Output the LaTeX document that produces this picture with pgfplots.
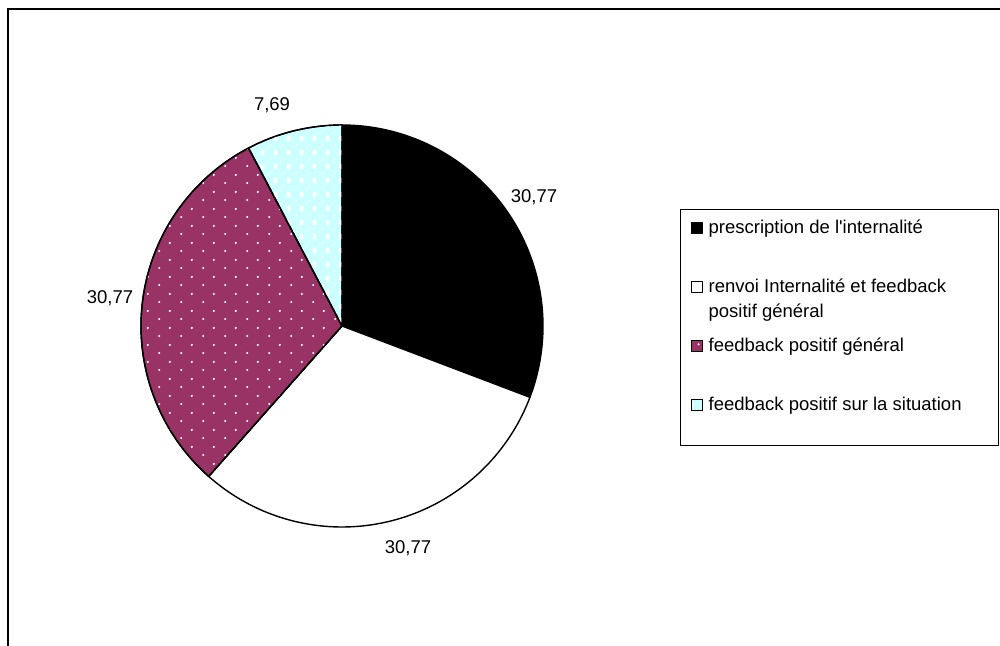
\documentclass[border=0pt]{standalone}
\usepackage{fontspec}
\setmainfont{Liberation Sans}[Ligatures=TeXOff]
\usepackage{pgfplots}
\usepackage{pgfplotstable}
\pgfplotsset{compat=1.18}
\usetikzlibrary{patterns.meta}
\definecolor{plum}{RGB}{153,51,102}
\definecolor{lcyan}{RGB}{204,255,255}

\tikzdeclarepattern{name=wdots, type=uncolored,
  bottom left={(0pt,0pt)}, top right={(11pt,8.5pt)}, tile size={(11pt,8.5pt)},
  code={\fill (2.75pt,2.1pt) circle (0.6pt); \fill (8.25pt,6.35pt) circle (0.6pt);}}
\tikzdeclarepattern{name=wchecks, type=uncolored,
  bottom left={(0pt,0pt)}, top right={(6.5pt,7pt)}, tile size={(6.5pt,7pt)},
  code={\fill (0.5pt,0.5pt) rectangle (2.3pt,3.3pt);
        \fill (3.75pt,4pt) rectangle (4.5pt,4.75pt); \fill (5.25pt,5.5pt) rectangle (6pt,6.25pt);}}

\pgfplotstableread{
idx value
0 30.77
1 30.77
2 30.77
3 7.69
}\piedata

\pgfplotstablegetelem{0}{value}\of\piedata \let\va\pgfplotsretval
\pgfplotstablegetelem{1}{value}\of\piedata \let\vb\pgfplotsretval
\pgfplotstablegetelem{2}{value}\of\piedata \let\vc\pgfplotsretval
\pgfplotstablegetelem{3}{value}\of\piedata \let\vd\pgfplotsretval
\pgfmathsetmacro{\aA}{90-3.6*\va}
\pgfmathsetmacro{\aB}{\aA-3.6*\vb}
\pgfmathsetmacro{\aC}{\aB-3.6*\vc}
\pgfmathsetmacro{\aD}{\aC-3.6*\vd}

\newcommand{\lfont}{\fontsize{9.25}{12.5}\selectfont}

\begin{document}
\begin{tikzpicture}
\begin{axis}[
  scale only axis, width=500pt, height=323pt,
  xmin=0, xmax=1000, ymin=0, ymax=646, y dir=reverse,
  hide axis, clip=false,
  legend style={at={(axis cs:680,209)}, anchor=north west, draw=black,
    line width=0.6pt, inner xsep=5pt, inner ysep=5pt, row sep=20.5pt,
    column sep=3pt, font=\lfont, nodes={inner sep=0pt, text depth=},
    cells={anchor=base west}},
  legend image code/.code={\draw[#1, line width=0.5pt] (0pt,0pt) rectangle (5.5pt,5.5pt);},
]
\addplot[draw=black, fill=black, line width=0.7pt, line join=round, domain=\aA:90, samples=80]
  ({342+201*cos(x)},{326-201*sin(x)}) -- (axis cs:342,326) -- cycle;
\addlegendentry{\rule[-2pt]{0pt}{9pt}prescription de l'internalité}
\addplot[draw=black, fill=white, line width=0.7pt, line join=round, domain=\aB:\aA, samples=80]
  ({342+201*cos(x)},{326-201*sin(x)}) -- (axis cs:342,326) -- cycle;
\addlegendentry{\raisebox{0pt}[7pt][2pt]{\begin{tabular}[t]{@{}l@{}}renvoi Internalité et feedback\\positif général\end{tabular}}}
\addplot[draw=black, fill=plum, postaction={pattern=wdots, pattern color=white}, line width=0.7pt, line join=round, domain=\aC:\aB, samples=80]
  ({342+201*cos(x)},{326-201*sin(x)}) -- (axis cs:342,326) -- cycle;
\addlegendentry{\rule[-2pt]{0pt}{9pt}feedback positif général}
\addplot[draw=black, fill=lcyan, postaction={pattern=wchecks, pattern color=white}, line width=0.7pt, line join=round, domain=\aD:\aC, samples=30]
  ({342+201*cos(x)},{326-201*sin(x)}) -- (axis cs:342,326) -- cycle;
\addlegendentry{\rule[-12.5pt]{0pt}{19.5pt}feedback positif sur la situation\hspace*{13.5pt}}

\node[anchor=base, font=\lfont] at (axis cs:272,111) {7,69};
\node[anchor=base, font=\lfont] at (axis cs:534,203) {30,77};
\node[anchor=base, font=\lfont] at (axis cs:110,304) {30,77};
\node[anchor=base, font=\lfont] at (axis cs:408,553) {30,77};

\draw[line width=1pt] (axis cs:8,646) -- (axis cs:8,9) -- (axis cs:1000,9);
\end{axis}
\pgfresetboundingbox
\useasboundingbox (current axis.south west) rectangle (current axis.north east);
\end{tikzpicture}
\end{document}
